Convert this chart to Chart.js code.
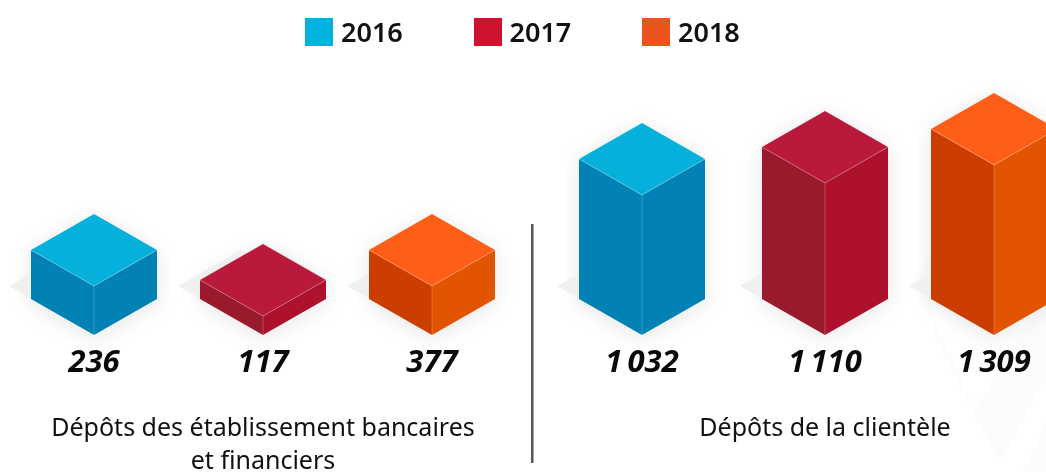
<!DOCTYPE html>
<html lang="fr">
<head>
<meta charset="utf-8">
<title>Dépôts</title>
<script src="https://cdn.jsdelivr.net/npm/chart.js@4"></script>
<style>
  html, body { margin: 0; background: #fff; overflow: hidden; }
  #wrap { position: relative; width: 1046px; height: 472px; overflow: hidden; }
  /* the last bar runs off the right edge in the source, so the canvas is wider than the page */
  #depots { position: absolute; left: -18px; top: 0; }
  #legend { position: absolute; left: 305px; top: 18px; display: flex; margin: 0; padding: 0; list-style: none;
            font: 600 27px "Noto Sans", sans-serif; color: #111; }
  #legend li { display: flex; align-items: center; width: 168.5px; height: 28px; }
  #legend i { display: block; width: 28px; height: 28px; margin-right: 8px; }
  #legend span { margin-top: -2px; }
</style>
</head>
<body>
<div id="wrap">
  <canvas id="depots" width="1124" height="472"></canvas>
  <ul id="legend"></ul>
</div>
<script>
const categories = [['Dépôts des établissement bancaires', 'et financiers'], 'Dépôts de la clientèle'];
const years = ['2016', '2017', '2018'];

// printed figures
const values2016 = [236, 1032];
const values2017 = [117, 1110];
const values2018 = [377, 1309];

// the drawn heights in the picture are not proportional to the figures, so they are read separately
const heights2016 = [49, 140];
const heights2017 = [19, 152];
const heights2018 = [49, 170];

const printed = [values2016, values2017, values2018];
const fmt = n => String(n).replace(/\B(?=(\d{3})+$)/g, '\u2009');

// top, left face, right face
const faces = [
  ['#05b1db', '#0181b4', '#0181b4'],
  ['#b9193b', '#991a2d', '#ae112e'],
  ['#ff5e18', '#cc3d00', '#e35400']
];
const DEPTH = 36 / 63;   // isometric slope of the top faces
const shiftX = [[0, -14], [0, 0], [0, 0]];   // the groups are not evenly spaced in the source

function poly(ctx, pts, fill) {
  ctx.beginPath();
  pts.forEach((p, i) => i ? ctx.lineTo(p[0], p[1]) : ctx.moveTo(p[0], p[1]));
  ctx.closePath();
  ctx.fillStyle = fill;
  ctx.fill();
}

const isoBars = {
  id: 'isoBars',
  beforeDraw(chart) {
    // faint watermark behind the right hand bars
    const ctx = chart.ctx;
    ctx.save();
    ctx.translate(18, 0);
    poly(ctx, [[912, 287], [932, 250], [932, 335], [973, 413], [955, 360]], '#fcfcfc');
    poly(ctx, [[1000, 462], [973, 413], [1020, 335], [1046, 300], [1046, 380]], '#fcfcfc');
    poly(ctx, [[1022, 472], [1046, 420], [1046, 472]], '#fcfcfc');
    ctx.restore();
  },
  beforeDatasetsDraw(chart) {
    // ground shadows, one pass so that no shadow lands on a neighbouring bar
    const ctx = chart.ctx;
    chart.data.datasets.forEach((ds, i) => {
      chart.getDatasetMeta(i).data.forEach((bar, j) => {
        const cx = bar.x + shiftX[i][j], h = bar.width / 2, d = h * DEPTH, b = bar.base;
        ctx.save();
        ctx.shadowColor = 'rgba(0,0,0,0.1)';
        ctx.shadowBlur = 22;
        ctx.shadowOffsetY = 3;
        poly(ctx, [[cx, bar.y - 2 * d], [cx + h, bar.y - d], [cx + h, b - d], [cx, b], [cx - h, b - d], [cx - h, bar.y - d]], '#fff');
        ctx.restore();
        poly(ctx, [[cx - 85, b - 49], [cx - 22, b - 85], [cx + 41, b - 49], [cx - 22, b - 13]], '#f0f0f0');
      });
    });
  },
  beforeDatasetDraw(chart, args) {
    const ctx = chart.ctx, i = args.index, f = faces[i];
    args.meta.data.forEach((bar, j) => {
      const cx = bar.x + shiftX[i][j], y = bar.y, b = bar.base, h = bar.width / 2, d = h * DEPTH;
      poly(ctx, [[cx - h, y - d], [cx, y], [cx, b], [cx - h, b - d]], f[1]);
      poly(ctx, [[cx + h, y - d], [cx, y], [cx, b], [cx + h, b - d]], f[2]);
      poly(ctx, [[cx, y], [cx + h, y - d], [cx, y - 2 * d], [cx - h, y - d]], f[0]);
      // thin light seams between the faces
      ctx.beginPath();
      ctx.moveTo(cx - h, y - d); ctx.lineTo(cx, y); ctx.lineTo(cx + h, y - d);
      ctx.moveTo(cx, y); ctx.lineTo(cx, b);
      ctx.strokeStyle = 'rgba(255,255,255,0.22)';
      ctx.lineWidth = 1;
      ctx.stroke();
    });
    return false;
  },
  afterDatasetsDraw(chart) {
    const ctx = chart.ctx, xs = chart.scales.x;
    ctx.save();
    ctx.font = 'italic 700 31px "Noto Sans", sans-serif';
    ctx.fillStyle = '#0a0a0a';
    ctx.textAlign = 'center';
    ctx.textBaseline = 'middle';
    chart.data.datasets.forEach((ds, i) => {
      chart.getDatasetMeta(i).data.forEach((bar, j) => {
        ctx.fillText(fmt(printed[i][j]), bar.x + shiftX[i][j], bar.base + 28);
      });
    });
    // separator between the two groups
    const sep = xs.getPixelForValue(0.5) - 12;
    ctx.fillStyle = '#55565f';
    ctx.fillRect(sep - 1, 224, 2.5, 239);
    ctx.restore();
  }
};

// legend built from the datasets, it has to sit closer than the canvas legend allows
const htmlLegend = {
  id: 'htmlLegend',
  afterUpdate(chart) {
    const ul = document.getElementById('legend');
    ul.innerHTML = '';
    chart.data.datasets.forEach(ds => {
      const li = document.createElement('li');
      const box = document.createElement('i');
      const txt = document.createElement('span');
      box.style.background = ds.backgroundColor;
      txt.textContent = ds.label;
      li.appendChild(box);
      li.appendChild(txt);
      ul.appendChild(li);
    });
  }
};

new Chart(document.getElementById('depots'), {
  type: 'bar',
  data: {
    labels: categories,
    datasets: [
      { label: years[0], data: heights2016, backgroundColor: '#00b3de' },
      { label: years[1], data: heights2017, backgroundColor: '#ce132f' },
      { label: years[2], data: heights2018, backgroundColor: '#ea541d' }
    ]
  },
  options: {
    responsive: false,
    animation: false,
    events: [],
    categoryPercentage: 0.9021,
    barPercentage: 0.7456,
    layout: { autoPadding: false, padding: { top: 35 } },
    plugins: { legend: { display: false }, tooltip: { enabled: false } },
    scales: {
      x: {
        afterFit(scale) { scale.height = 137; },
        grid: { display: false, tickLength: 9 },
        border: { display: false },
        ticks: {
          autoSkip: false,
          maxRotation: 0,
          padding: 68,
          color: '#111',
          font: { family: '"Noto Sans", sans-serif', size: 25, lineHeight: 1.32 }
        }
      },
      y: { display: false, min: 0, max: 300 }
    }
  },
  plugins: [isoBars, htmlLegend]
});
</script>
</body>
</html>
